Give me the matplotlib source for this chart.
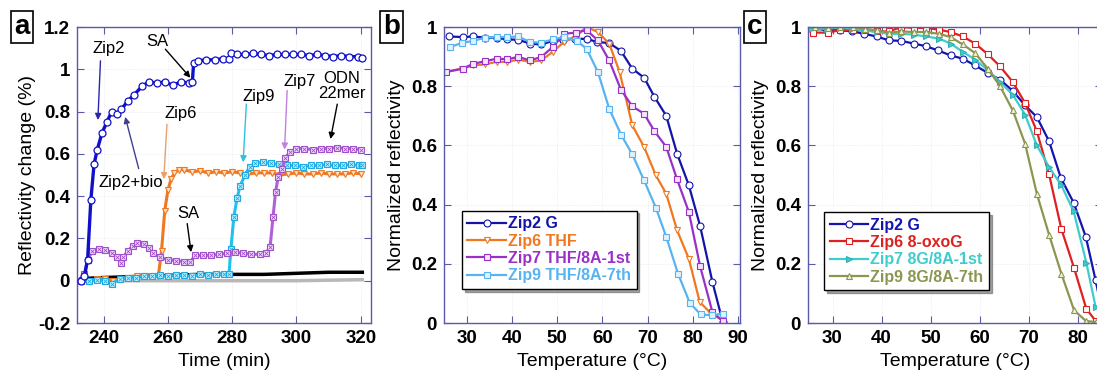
import numpy as np
import matplotlib
matplotlib.use("Agg")
import matplotlib.pyplot as plt
from matplotlib.ticker import FuncFormatter

plt.rcParams['font.family'] = ['Liberation Sans', 'DejaVu Sans']

# ---------------- panel a : time course ----------------
zip2_t = [233.0, 234.0, 235.0, 236.0, 237.0, 238.0, 239.5, 241.0, 242.5, 244.0, 245.5,
          247.5, 249.5, 252.0, 254.0, 256.5, 259.0, 261.5, 264.0, 266.5, 267.6, 268.0,
          269.5, 272.0, 274.5, 277.0, 279.0, 279.6, 281.5, 284.0, 286.5, 289.0, 291.5,
          294.0, 296.5, 299.0, 301.5, 304.0, 306.5, 309.0, 311.5, 314.0, 316.5, 319.0, 320.5]
zip2_y = [0.0, 0.02, 0.10, 0.38, 0.55, 0.62, 0.70, 0.75, 0.80, 0.79, 0.81,
          0.85, 0.88, 0.92, 0.94, 0.935, 0.94, 0.925, 0.94, 0.935, 0.94, 1.03,
          1.04, 1.045, 1.045, 1.05, 1.05, 1.075, 1.07, 1.07, 1.075, 1.07, 1.065,
          1.07, 1.07, 1.07, 1.07, 1.065, 1.07, 1.065, 1.06, 1.065, 1.06, 1.06, 1.055]

zip6_t = [233, 235.5, 238, 240.5, 243, 245.5, 248, 250.5, 253, 255.5, 257.0, 258.0, 259.0,
          260.0, 261.0, 262.0, 263.5, 265, 267.5, 270, 272.5, 275, 277.5, 280, 282.5, 285,
          287.5, 290, 292.5, 295, 297.5, 300, 302.5, 305, 307.5, 310, 312.5, 315, 317.5, 320]
zip6_y = [0.0, 0.0, 0.01, 0.01, 0.0, 0.01, 0.015, 0.02, 0.02, 0.02, 0.02, 0.14, 0.33,
          0.43, 0.48, 0.51, 0.525, 0.525, 0.515, 0.52, 0.51, 0.515, 0.51, 0.515, 0.51, 0.505,
          0.51, 0.51, 0.51, 0.50, 0.505, 0.51, 0.505, 0.505, 0.51, 0.505, 0.505, 0.505, 0.51, 0.505]

zip7_t = [233.0, 234.0, 235.0, 236.5, 238.5, 240.5, 242.5, 244.0, 245.5, 246.0, 247.5, 249.0,
          250.5, 252.5, 254.0, 255.5, 257.5, 260.0, 262.5, 265.0, 267.0, 268.5, 271.0, 273.5,
          276.0, 278.5, 281.0, 283.5, 286.0, 288.5, 290.5, 291.8, 292.7, 293.5, 294.3, 295.5,
          296.5, 298.0, 300.0, 302.5, 305.0, 307.5, 310.0, 312.5, 315.0, 317.5, 320.0]
zip7_y = [0.0, 0.03, 0.10, 0.14, 0.15, 0.145, 0.13, 0.11, 0.085, 0.11, 0.14, 0.165,
          0.18, 0.175, 0.155, 0.13, 0.11, 0.10, 0.095, 0.09, 0.09, 0.12, 0.12, 0.12,
          0.125, 0.13, 0.135, 0.13, 0.125, 0.125, 0.13, 0.16, 0.30, 0.42, 0.49, 0.53,
          0.58, 0.61, 0.625, 0.625, 0.62, 0.625, 0.625, 0.63, 0.625, 0.625, 0.62]

zip9_t = [233, 235.5, 238, 240.5, 242.5, 245, 247.5, 250, 252.5, 255, 257.5, 260, 262.5,
          265, 267.5, 270, 272.5, 275, 277.5, 279.0, 279.6, 280.5, 281.5, 282.5, 284.0,
          285.5, 287.0, 289.5, 292.0, 294.5, 297.0, 299.5, 302, 304.5, 307, 309.5, 312,
          314.5, 317, 319.5, 320.5]
zip9_y = [0.0, 0.0, 0.005, 0.0, -0.015, 0.01, 0.015, 0.015, 0.02, 0.02, 0.025, 0.02, 0.025,
          0.025, 0.02, 0.03, 0.025, 0.03, 0.03, 0.03, 0.15, 0.30, 0.39, 0.45, 0.50,
          0.54, 0.555, 0.56, 0.555, 0.55, 0.545, 0.545, 0.54, 0.545, 0.545, 0.55, 0.545,
          0.545, 0.55, 0.545, 0.545]

odn_t = [233, 240, 250, 260, 270, 280, 290, 300, 310, 320.5]
odn_y = [0.01, 0.015, 0.02, 0.025, 0.03, 0.03, 0.03, 0.035, 0.04, 0.04]
ref_t = [233, 250, 280, 300, 320.5]
ref_y = [0.0, 0.0, 0.0, 0.0, 0.005]

# ---------------- panel b : THF melting ----------------
b_zip2_T = [26.2, 29.1, 31.5, 34, 36.6, 39, 41.4, 44, 46.5, 49, 51.3, 53.9, 56.5, 58.9, 61.5,
            64.1, 66.6, 69.2, 71.5, 74.1, 76.5, 79.1, 81.6, 84.3, 86.6]
b_zip2_y = [0.968, 0.966, 0.968, 0.964, 0.964, 0.958, 0.957, 0.944, 0.941, 0.953, 0.957, 0.96,
            0.96, 0.949, 0.946, 0.919, 0.859, 0.829, 0.764, 0.70, 0.572, 0.465, 0.327, 0.139, 0.003]
b_zip6_T = [25.2, 28.9, 31.5, 34, 36.6, 39, 41.4, 44, 46.5, 49, 51.5, 54.3, 56.5, 59, 61.5,
            63.8, 66.6, 69.2, 71.8, 74.1, 76.5, 79.1, 81.5, 84, 86.5]
b_zip6_y = [0.848, 0.859, 0.87, 0.874, 0.882, 0.882, 0.89, 0.882, 0.887, 0.916, 0.949, 0.972,
            1.0, 0.983, 0.944, 0.848, 0.668, 0.595, 0.499, 0.437, 0.313, 0.217, 0.071, 0.032, 0.009]
b_zip7_T = [25.4, 29.1, 31.5, 34, 36.6, 39, 41.4, 44, 46.5, 49, 51.5, 54.1, 56.5, 59, 61.5,
            64.1, 66.6, 69.2, 71.5, 74.1, 76.5, 79.1, 81.6, 84.3, 86.6]
b_zip7_y = [0.848, 0.859, 0.876, 0.884, 0.893, 0.891, 0.899, 0.887, 0.899, 0.932, 0.977, 0.981,
            0.989, 0.955, 0.887, 0.788, 0.732, 0.707, 0.648, 0.595, 0.485, 0.375, 0.191, 0.037, 0.007]
b_zip9_T = [26.3, 28.9, 31.5, 34, 36.6, 39, 41.4, 44, 46.5, 49, 51.5, 54.3, 56.5, 59, 61.5,
            64.2, 66.6, 69.2, 71.8, 74.1, 76.7, 79.3, 81.7, 84.3, 86.6]
b_zip9_y = [0.932, 0.946, 0.953, 0.964, 0.966, 0.966, 0.968, 0.949, 0.947, 0.958, 0.966, 0.953,
            0.927, 0.848, 0.724, 0.634, 0.57, 0.482, 0.39, 0.291, 0.167, 0.068, 0.029, 0.026, 0.032]

# ---------------- panel c : 8-oxoG melting ----------------
c_zip2_T = [25.7, 28.8, 31.5, 33.9, 36.4, 39, 41.5, 44, 46.6, 49.1, 51.5, 54.1, 56.6, 59.1,
            61.7, 64.2, 66.8, 69.3, 71.7, 74.2, 76.6, 79.2, 81.7, 83.7, 85.5]
c_zip2_y = [0.997, 0.989, 0.989, 0.986, 0.977, 0.968, 0.955, 0.953, 0.944, 0.935, 0.921, 0.904,
            0.893, 0.87, 0.845, 0.822, 0.784, 0.735, 0.696, 0.614, 0.49, 0.407, 0.291, 0.144, 0.0]
c_zip6_T = [26.1, 29, 31.5, 34.1, 36.6, 39, 41.5, 44, 46.6, 49.1, 51.7, 54.1, 56.6, 59.1,
            61.7, 64.2, 66.8, 69.3, 71.7, 74.2, 76.7, 79.3, 81.8, 83.7]
c_zip6_y = [0.981, 0.981, 0.989, 0.989, 0.989, 0.985, 0.985, 1.0, 0.997, 0.997, 0.991, 0.983,
            0.968, 0.944, 0.908, 0.867, 0.814, 0.743, 0.648, 0.502, 0.318, 0.186, 0.048, 0.007]
c_zip7_T = [25.7, 28.8, 31.5, 33.9, 36.4, 39, 41.5, 44, 46.6, 49.1, 51.7, 54.1, 56.6, 59.1,
            61.7, 64.2, 66.8, 69.3, 71.7, 74.2, 76.7, 79.2, 81.8, 83.7]
c_zip7_y = [0.994, 0.994, 0.998, 0.994, 0.989, 0.983, 0.977, 0.977, 0.974, 0.968, 0.961, 0.944,
            0.916, 0.89, 0.854, 0.814, 0.771, 0.704, 0.60, 0.527, 0.465, 0.378, 0.204, 0.054]
c_zip9_T = [26.4, 29.1, 31.5, 34.1, 36.6, 39, 41.5, 44, 46.6, 49.1, 51.7, 54.1, 56.6, 59.1,
            61.7, 64.2, 66.8, 69.3, 71.7, 74.2, 76.7, 79.3, 81.7, 83.7]
c_zip9_y = [1.0, 0.998, 1.0, 1.0, 0.994, 0.989, 0.981, 0.985, 0.983, 0.983, 0.977, 0.966,
            0.941, 0.912, 0.859, 0.80, 0.718, 0.606, 0.437, 0.298, 0.167, 0.043, 0.007, 0.003]

SPINE = '#5a5aaa'
TICKFONT = ['Liberation Sans Narrow', 'Liberation Sans', 'DejaVu Sans']
W, H = 1097, 374
fig = plt.figure(figsize=(W / 100, H / 100), dpi=100)


def make_ax(left_px, width_px):
    ax = fig.add_axes([left_px / W, (H - 323) / H, width_px / W, 296 / H])
    for s in ax.spines.values():
        s.set_color(SPINE)
        s.set_linewidth(1.0)
    ax.tick_params(direction='in', top=True, right=True, length=5, color=SPINE,
                   labelsize=13.5, pad=5)
    ax.grid(True, color='#e6e6f0', linestyle=':', linewidth=0.6)
    ax.set_axisbelow(True)
    ax.yaxis.set_major_formatter(FuncFormatter(lambda v, p: f'{v:g}'))
    return ax


def bold_ticks(ax):
    for lab in ax.get_xticklabels() + ax.get_yticklabels():
        lab.set_fontweight('bold')
        lab.set_family(TICKFONT)


def panel_letter(x_px, s):
    fig.text(x_px / W, (H - 27) / H, s, fontsize=20, fontweight='bold', ha='left', va='center',
             bbox=dict(boxstyle='square,pad=0.12', fc='white', ec='black', lw=1.2))


# ---- panel a
axa = make_ax(77, 294)
axa.plot(ref_t, ref_y, color='#b8b8b8', lw=2.5, zorder=2)
axa.plot(odn_t, odn_y, color='black', lw=2.5, zorder=3)
axa.plot(zip6_t, zip6_y, color='#f07820', lw=2.2, marker='v', ms=4.5, mfc='#fde0c8', mec='#f07820', mew=0.8, zorder=4)
axa.plot(zip9_t, zip9_y, color='#20c0f0', lw=2.2, marker='s', ms=4.5, mfc='#c8f0ff', mec='#20a8e0', mew=0.8, zorder=5)
axa.plot(zip9_t, zip9_y, ls='none', marker='x', ms=3, mec='#20a8e0', mew=0.6, zorder=5)
axa.plot(zip7_t, zip7_y, color='#b060d8', lw=2.2, marker='s', ms=4.5, mfc='#f0e0ff', mec='#a050c8', mew=0.8, zorder=6)
axa.plot(zip7_t, zip7_y, ls='none', marker='x', ms=3, mec='#a050c8', mew=0.6, zorder=6)
axa.plot(zip2_t, zip2_y, color='#1010c8', lw=2.4, marker='o', ms=5, mfc='white', mec='#1010c8', mew=0.9, zorder=7)
axa.set_xlim(231.7, 323.2)
axa.set_ylim(-0.2, 1.2)
axa.set_xticks([240, 260, 280, 300, 320])
axa.set_yticks([-0.2, 0, 0.2, 0.4, 0.6, 0.8, 1.0, 1.2])
axa.set_xlabel('Time (min)', fontsize=14)
axa.set_ylabel('Reflectivity change (%)', fontsize=14, labelpad=1)
bold_ticks(axa)

notes = [('Zip2', (241.5, 1.10), (239.0, 1.04), (238.2, 0.76), '#2828a8'),
         ('SA', (256.6, 1.13), (259.2, 1.095), (267.0, 0.96), 'black'),
         ('Zip2+bio', (248.3, 0.465), (250.9, 0.53), (246.7, 0.775), '#404090'),
         ('Zip6', (263.9, 0.79), (259.7, 0.74), (258.7, 0.48), '#e8a070'),
         ('SA', (266.2, 0.32), (266.0, 0.27), (267.2, 0.135), 'black'),
         ('Zip9', (288.3, 0.87), (284.4, 0.835), (283.4, 0.56), '#30c0e0'),
         ('Zip7', (301.1, 0.94), (297.1, 0.90), (296.3, 0.62), '#c080e0'),
         ('ODN\n22mer', (314.0, 0.92), (312.7, 0.835), (310.6, 0.67), 'black')]
for txt, tpos, a0, a1, col in notes:
    axa.text(*tpos, txt, fontsize=12, ha='center', va='center', linespacing=1.0, zorder=8)
    axa.annotate('', xy=a1, xytext=a0,
                 arrowprops=dict(arrowstyle='-|>', color=col, lw=1.0, mutation_scale=9,
                                 shrinkA=0, shrinkB=0), zorder=8)

# ---- panel b
axb = make_ax(444, 296)
axb.plot(b_zip2_T, b_zip2_y, color='#1414a8', lw=1.6, marker='o', ms=5, mfc='white', mec='#1414a8', mew=0.8, label='Zip2 G')
axb.plot(b_zip6_T, b_zip6_y, color='#f07820', lw=1.6, marker='v', ms=5, mfc='white', mec='#f07820', mew=0.8, label='Zip6 THF')
axb.plot(b_zip7_T, b_zip7_y, color='#9a30c8', lw=1.6, marker='s', ms=4.5, mfc='#f2e6fa', mec='#9a30c8', mew=0.8, label='Zip7 THF/8A-1st')
axb.plot(b_zip9_T, b_zip9_y, color='#58b4f0', lw=1.6, marker='s', ms=4.5, mfc='#e0f2ff', mec='#58b4f0', mew=0.8, label='Zip9 THF/8A-7th')
axb.set_xlim(25, 90.4)
axb.set_ylim(0, 1)
axb.set_xticks([30, 40, 50, 60, 70, 80, 90])
axb.set_yticks([0, 0.2, 0.4, 0.6, 0.8, 1.0])
axb.set_xlabel('Temperature (\u00b0C)', fontsize=14)
axb.set_ylabel('Normalized reflectivity', fontsize=14)
bold_ticks(axb)
lg = axb.legend(loc='lower left', bbox_to_anchor=(0.06, 0.115), frameon=True, fancybox=False,
                shadow=True, edgecolor='black', framealpha=1, handlelength=2.4, handletextpad=0.15,
                labelspacing=0.15, borderpad=0.35, borderaxespad=0,
                prop={'weight': 'bold', 'size': 11.5}, labelcolor='linecolor')
lg.get_frame().set_linewidth(1.0)

# ---- panel c
axc = make_ax(808, 294)
axc.plot(c_zip2_T, c_zip2_y, color='#1414b0', lw=1.6, marker='o', ms=5, mfc='white', mec='#1414b0', mew=0.8, label='Zip2 G')
axc.plot(c_zip6_T, c_zip6_y, color='#e02020', lw=1.6, marker='s', ms=5, mfc='white', mec='#e02020', mew=0.8, label='Zip6 8-oxoG')
axc.plot(c_zip7_T, c_zip7_y, color='#40cccc', lw=1.6, marker='>', ms=5, mfc='#40cccc', mec='#30b0b0', mew=0.8, label='Zip7 8G/8A-1st')
axc.plot(c_zip9_T, c_zip9_y, color='#8c9650', lw=1.6, marker='^', ms=5, mfc='#eef0d8', mec='#8c9650', mew=0.8, label='Zip9 8G/8A-7th')
axc.set_xlim(25, 85)
axc.set_ylim(0, 1)
axc.set_xticks([30, 40, 50, 60, 70, 80])
axc.set_yticks([0, 0.2, 0.4, 0.6, 0.8, 1.0])
axc.set_xlabel('Temperature (\u00b0C)', fontsize=14)
axc.set_ylabel('Normalized reflectivity', fontsize=14)
bold_ticks(axc)
lg = axc.legend(loc='lower left', bbox_to_anchor=(0.055, 0.11), frameon=True, fancybox=False,
                shadow=True, edgecolor='black', framealpha=1, handlelength=2.4, handletextpad=0.15,
                labelspacing=0.15, borderpad=0.35, borderaxespad=0,
                prop={'weight': 'bold', 'size': 11.5}, labelcolor='linecolor')
lg.get_frame().set_linewidth(1.0)

panel_letter(14, 'a')
panel_letter(383, 'b')
panel_letter(747, 'c')

fig.savefig('out.png', dpi=100)
